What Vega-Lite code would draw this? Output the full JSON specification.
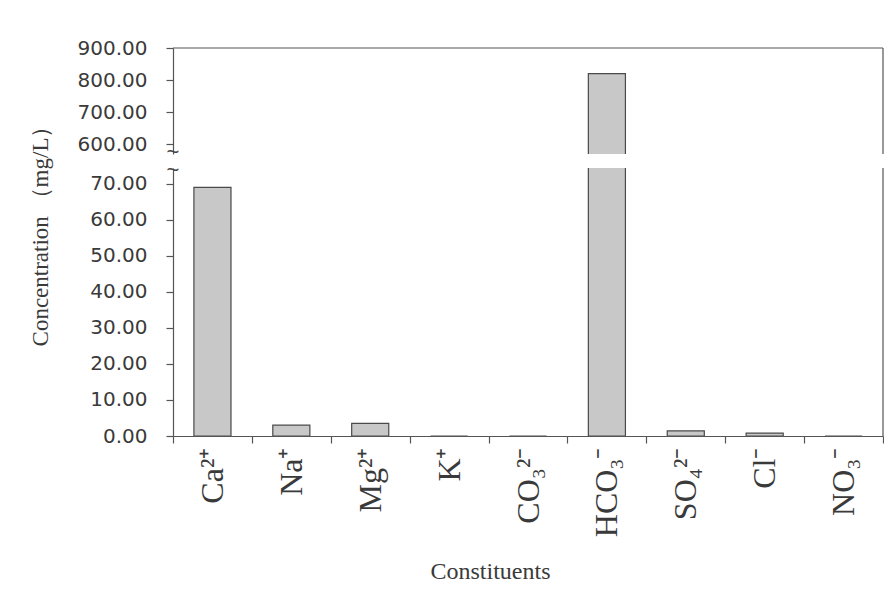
{
  "$schema": "https://vega.github.io/schema/vega-lite/v6.json",
  "autosize": {"type": "pad"},
  "padding": {"left": 29, "top": 38, "right": 0, "bottom": 0},
  "background": "white",
  "bounds": "flush",
  "config": {
    "view": {"stroke": null},
    "concat": {"spacing": 14},
    "axis": {
      "domainColor": "#555555",
      "tickColor": "#555555",
      "labelColor": "#3a3a3a",
      "titleColor": "#3a3a3a",
      "grid": false,
      "domainWidth": 1.2,
      "tickWidth": 1.2
    }
  },
  "data": {
    "values": [
      {"ion": "Ca²⁺", "conc": 69.0},
      {"ion": "Na⁺", "conc": 3.0},
      {"ion": "Mg²⁺", "conc": 3.5},
      {"ion": "K⁺", "conc": 0},
      {"ion": "CO₃²⁻", "conc": 0},
      {"ion": "HCO₃⁻", "conc": 820},
      {"ion": "SO₄²⁻", "conc": 1.4},
      {"ion": "Cl⁻", "conc": 0.8},
      {"ion": "NO₃⁻", "conc": 0}
    ]
  },
  "vconcat": [
    {
      "width": 710,
      "height": 106,
      "layer": [
        {
          "mark": {"type": "bar", "clip": true, "width": {"band": 0.47}, "fill": "#c8c8c8", "stroke": "#4a4a4a", "strokeWidth": 1.2},
          "encoding": {
            "x": {"field": "ion", "type": "nominal", "sort": null, "scale": {"padding": 0}, "axis": null},
            "y": {
              "field": "conc", "type": "quantitative",
              "scale": {"domain": [568.75, 900], "nice": false, "zero": false},
              "axis": {"values": [600, 700, 800, 900], "tickCount": 20, "format": ".2f", "title": null, "labelOverlap": false,
                       "labelFont": "DejaVu Sans", "labelFontSize": 20, "tickSize": 7, "labelPadding": 19}
            }
          }
        },
        {
          "data": {"values": [{}]},
          "mark": {"type": "rule", "color": "#555555", "strokeWidth": 1.2},
          "encoding": {"y": {"datum": 900, "type": "quantitative"}}
        },
        {
          "data": {"values": [{}]},
          "mark": {"type": "rule", "color": "#555555", "strokeWidth": 1.2},
          "encoding": {"x": {"datum": "NO₃⁻", "type": "nominal", "bandPosition": 1}}
        },
        {
          "data": {"values": [{}]},
          "mark": {"type": "text", "text": "~", "fontSize": 22, "color": "#444444", "baseline": "middle", "align": "center", "dy": -2},
          "encoding": {"x": {"datum": "Ca²⁺", "type": "nominal", "bandPosition": 0}, "y": {"datum": 568.75, "type": "quantitative"}}
        }
      ]
    },
    {
      "width": 710,
      "height": 268,
      "layer": [
        {
          "mark": {"type": "bar", "clip": true, "width": {"band": 0.47}, "fill": "#c8c8c8", "stroke": "#4a4a4a", "strokeWidth": 1.2},
          "encoding": {
            "x": {
              "field": "ion", "type": "nominal", "sort": null, "scale": {"padding": 0},
              "axis": {"labelAngle": -90, "labelFont": "Liberation Serif", "labelFontSize": 32, "tickBand": "extent",
                       "tickSize": 7, "labelPadding": 4, "title": "Constituents", "titleFont": "Liberation Serif",
                       "titleFontSize": 24, "titleFontWeight": "normal", "titleX": 317, "titleY": 135,
                       "titleBaseline": "middle", "titleAlign": "center"}
            },
            "y": {
              "field": "conc", "type": "quantitative",
              "scale": {"domain": [0, 74.4], "nice": false},
              "axis": {"values": [0, 10, 20, 30, 40, 50, 60, 70], "tickCount": 20, "format": ".2f", "labelOverlap": false,
                       "title": "Concentration （mg/L）", "titleFont": "Liberation Serif", "titleFontSize": 23,
                       "titleFontWeight": "normal", "titleX": -133, "titleY": 62, "titleAlign": "center",
                       "titleBaseline": "middle", "titleAngle": -90,
                       "labelFont": "DejaVu Sans", "labelFontSize": 20, "tickSize": 7, "labelPadding": 19}
            }
          }
        },
        {
          "data": {"values": [{}]},
          "mark": {"type": "rule", "color": "#555555", "strokeWidth": 1.2},
          "encoding": {"x": {"datum": "NO₃⁻", "type": "nominal", "bandPosition": 1}}
        },
        {
          "data": {"values": [{}]},
          "mark": {"type": "text", "text": "~", "fontSize": 22, "color": "#444444", "baseline": "middle", "align": "center", "dy": 2},
          "encoding": {"x": {"datum": "Ca²⁺", "type": "nominal", "bandPosition": 0}, "y": {"datum": 74.4, "type": "quantitative"}}
        }
      ]
    }
  ]
}
